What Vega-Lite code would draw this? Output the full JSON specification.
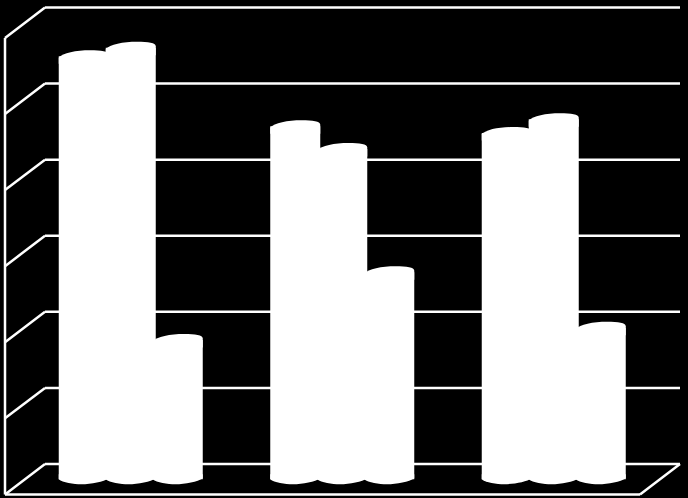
{
  "$schema": "https://vega.github.io/schema/vega-lite/v6.json",
  "width": 688,
  "height": 498,
  "padding": 0,
  "autosize": "none",
  "background": "black",
  "config": {"view": {"stroke": null}},
  "datasets": {
    "frame": [
      {"x1": 45, "x2": 680, "v1": 0, "v2": 0},
      {"x1": 45, "x2": 680, "v1": 1, "v2": 1},
      {"x1": 45, "x2": 680, "v1": 2, "v2": 2},
      {"x1": 45, "x2": 680, "v1": 3, "v2": 3},
      {"x1": 45, "x2": 680, "v1": 4, "v2": 4},
      {"x1": 45, "x2": 680, "v1": 5, "v2": 5},
      {"x1": 45, "x2": 680, "v1": 6, "v2": 6},
      {"x1": 5, "x2": 45, "v1": -0.4, "v2": 0},
      {"x1": 5, "x2": 45, "v1": 0.6, "v2": 1},
      {"x1": 5, "x2": 45, "v1": 1.6, "v2": 2},
      {"x1": 5, "x2": 45, "v1": 2.6, "v2": 3},
      {"x1": 5, "x2": 45, "v1": 3.6, "v2": 4},
      {"x1": 5, "x2": 45, "v1": 4.6, "v2": 5},
      {"x1": 5, "x2": 45, "v1": 5.6, "v2": 6},
      {"x1": 5, "x2": 5, "v1": -0.4, "v2": 5.6},
      {"x1": 5, "x2": 640, "v1": -0.4, "v2": -0.4},
      {"x1": 640, "x2": 680, "v1": -0.4, "v2": 0}
    ],
    "bars": [
      {"group": "A", "series": "s1", "value": 5.36},
      {"group": "A", "series": "s2", "value": 5.47},
      {"group": "A", "series": "s3", "value": 1.63},
      {"group": "B", "series": "s1", "value": 4.44},
      {"group": "B", "series": "s2", "value": 4.14},
      {"group": "B", "series": "s3", "value": 2.52},
      {"group": "C", "series": "s1", "value": 4.35},
      {"group": "C", "series": "s2", "value": 4.53},
      {"group": "C", "series": "s3", "value": 1.79}
    ]
  },
  "layer": [
    {
      "data": {"name": "frame"},
      "mark": {"type": "rule", "color": "white", "strokeWidth": 2.5},
      "encoding": {
        "x": {"field": "x1", "type": "quantitative", "scale": {"domain": [0, 688]}, "axis": null},
        "x2": {"field": "x2"},
        "y": {"field": "v1", "type": "quantitative", "scale": {"domain": [-0.447, 6.099], "nice": false, "zero": false}, "axis": null},
        "y2": {"field": "v2"}
      }
    },
    {
      "data": {"name": "bars"},
      "encoding": {
        "x": {"field": "group", "type": "nominal", "scale": {"range": [25, 659.5], "padding": 0}, "axis": null},
        "xOffset": {"field": "series", "type": "nominal", "scale": {"range": [35.25, 176.25], "padding": 0}}
      },
      "layer": [
        {
          "mark": {"type": "bar", "size": 50, "color": "white"},
          "encoding": {
            "y": {"field": "value", "type": "quantitative"},
            "y2": {"datum": -0.2}
          }
        },
        {
          "mark": {"type": "point", "shape": "M-1,0.06 C-0.85,-0.14 -0.3,-0.24 0.25,-0.24 C0.7,-0.24 1,-0.2 1,-0.06 L1,0.3 L-1,0.3 Z", "filled": true, "size": 2500, "color": "white", "opacity": 1},
          "encoding": {
            "y": {"field": "value", "type": "quantitative"}
          }
        },
        {
          "mark": {"type": "point", "shape": "M-1,0 C-0.85,0.13 -0.4,0.2 -0.1,0.2 C0.3,0.2 0.8,0.1 1,-0.04 L1,-0.2 L-1,-0.2 Z", "filled": true, "size": 2500, "color": "white", "opacity": 1},
          "encoding": {
            "y": {"datum": -0.2}
          }
        }
      ]
    }
  ],
  "resolve": {"scale": {"x": "independent"}}
}
